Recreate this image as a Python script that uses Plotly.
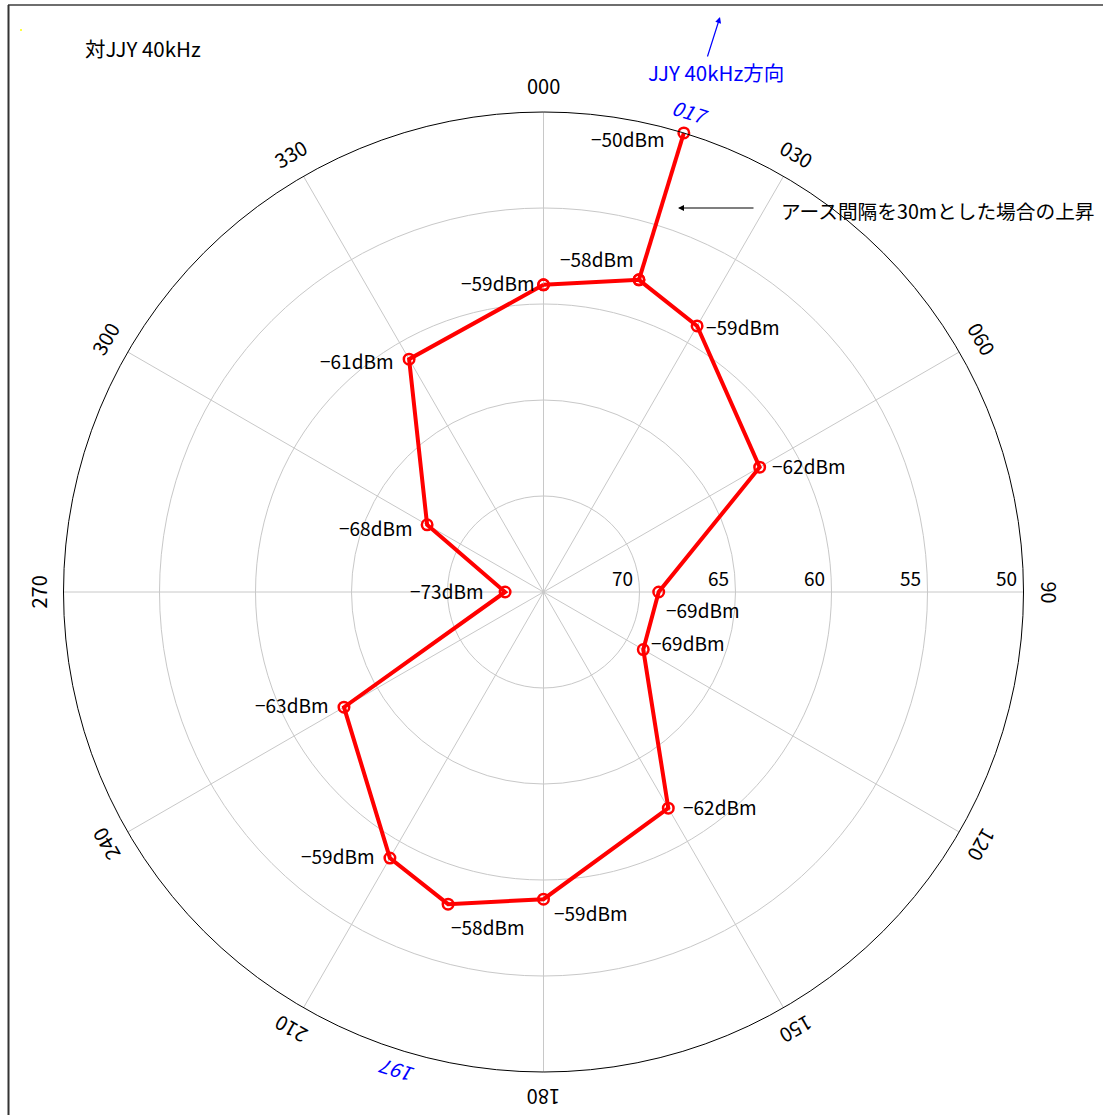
import math
import plotly.graph_objects as go

# ---------------- data ----------------
angles = [0, 17, 30, 60, 90, 120, 150, 180, 197, 210, 240, 270, 300, 330]
levels_dbm = [-59, -58, -59, -62, -69, -69, -62, -59, -58, -59, -63, -73, -68, -61]

rise_angles = [17, 17]
rise_dbm = [-58, -50]

ring_values = [5, 10, 15, 20, 25]
ring_labels = ["70", "65", "60", "55", "50"]
spoke_angles = [0, 30, 60, 90, 120, 150, 180, 210, 240, 270, 300, 330]
spoke_labels = ["000", "030", "060", "90", "120", "150", "180", "210", "240", "270", "300", "330"]
special_angles = [17, 197]
special_labels = ["017", "197"]

# label offsets (pixels, from each point to its label centre)
label_dx = [-46, -42, 46, 49, 44, 45, 52, 47, 40, -52, -52, -58, -51, -52]
label_dy = [-2, -21, 1, -2, 17, -7, -2, 13, 22, -3, -3, -2, 3, 1]
rise_label_dx, rise_label_dy = -56, 6

OFFSET = 75          # r = dBm + 75  (centre = -75 dBm)
RMAX = 25

# ---------------- geometry ----------------
W, H = 1103, 1115
CX, CY, R = 543.5, 592.0, 480.0
FONT = "Noto Sans CJK JP, Noto Sans, sans-serif"


def to_paper(theta, rval):
    px = CX + R * rval / RMAX * math.sin(math.radians(theta))
    py = CY - R * rval / RMAX * math.cos(math.radians(theta))
    return px / W, 1 - py / H


def fmt(v):
    return f"{v}dBm".replace("-", "\u2212")


r_main = [v + OFFSET for v in levels_dbm]
r_rise = [v + OFFSET for v in rise_dbm]
fig = go.Figure()

line_style = dict(color="#ff0000", width=4)
marker_style = dict(symbol="circle-open", size=10.5, color="#ff0000", line=dict(width=2.5))

fig.add_trace(go.Scatterpolar(
    theta=angles + angles[:1],
    r=r_main + r_main[:1],
    mode="lines+markers",
    line=line_style, marker=marker_style,
    cliponaxis=False, showlegend=False, hoverinfo="skip",
))
fig.add_trace(go.Scatterpolar(
    theta=rise_angles, r=r_rise,
    mode="lines+markers",
    line=line_style, marker=marker_style,
    cliponaxis=False, showlegend=False, hoverinfo="skip",
))

annotations = []
LBL_FONT = dict(family=FONT, size=19, color="black")

# value labels
for a, rv, v, dx, dy in zip(angles, r_main, levels_dbm, label_dx, label_dy):
    x, y = to_paper(a, rv)
    annotations.append(dict(x=x, y=y, xref="paper", yref="paper", text=fmt(v), showarrow=False,
                            xanchor="center", yanchor="middle", xshift=dx, yshift=-dy, font=LBL_FONT))
x, y = to_paper(rise_angles[1], r_rise[1])
annotations.append(dict(x=x, y=y, xref="paper", yref="paper", text=fmt(rise_dbm[1]), showarrow=False,
                        xanchor="center", yanchor="middle", xshift=rise_label_dx, yshift=-rise_label_dy,
                        font=LBL_FONT))

# angular labels (rotated)
LABEL_R = RMAX * 506 / R
for a, t in zip(spoke_angles, spoke_labels):
    x, y = to_paper(a, LABEL_R)
    ang = a if a <= 180 else a - 360
    annotations.append(dict(x=x, y=y, xref="paper", yref="paper", text=t, showarrow=False,
                            textangle=ang, xanchor="center", yanchor="middle",
                            font=dict(family=FONT, size=20, color="black")))
LABEL_R2 = RMAX * 502 / R
for a, t in zip(special_angles, special_labels):
    x, y = to_paper(a, LABEL_R2)
    ang = a if a <= 180 else a - 360
    annotations.append(dict(x=x, y=y, xref="paper", yref="paper", text=t, showarrow=False,
                            textangle=ang, xanchor="center", yanchor="middle",
                            font=dict(family=FONT, size=20, color="blue", style="italic")))

# radial labels
for v, t in zip(ring_values, ring_labels):
    x, y = to_paper(90, v)
    annotations.append(dict(x=x - 5 / W, y=y - 1 / H, xref="paper", yref="paper", text=t,
                            showarrow=False, xanchor="right", yanchor="bottom",
                            font=dict(family=FONT, size=19, color="black")))

# title / notes
annotations.append(dict(x=83 / W, y=1 - 48 / H, xref="paper", yref="paper", text="対JJY 40kHz",
                        showarrow=False, xanchor="left", yanchor="middle",
                        font=dict(family=FONT, size=20.5, color="black")))
annotations.append(dict(x=716 / W, y=1 - 72 / H, xref="paper", yref="paper", text="JJY 40kHz方向",
                        showarrow=False, xanchor="center", yanchor="middle",
                        font=dict(family=FONT, size=20.5, color="blue")))
annotations.append(dict(x=720 / W, y=1 - 17 / H, xref="paper", yref="paper", text="",
                        showarrow=True, ax=-13, ay=41, arrowhead=2, arrowsize=1, arrowwidth=1.2,
                        arrowcolor="blue", standoff=0, startstandoff=0))
annotations.append(dict(x=779 / W, y=1 - 211 / H, xref="paper", yref="paper",
                        text="アース間隔を30mとした場合の上昇",
                        showarrow=False, xanchor="left", yanchor="middle",
                        font=dict(family=FONT, size=19.7, color="black")))
annotations.append(dict(x=678 / W, y=1 - 208 / H, xref="paper", yref="paper", text="",
                        showarrow=True, ax=77, ay=0, arrowhead=2, arrowsize=1, arrowwidth=1.2,
                        arrowcolor="black", standoff=0, startstandoff=0))

shapes = [
    dict(type="line", xref="paper", yref="paper", x0=8 / W, x1=1.0, y0=1 - 5 / H, y1=1 - 5 / H,
         line=dict(color="#6e6e6e", width=2)),
    dict(type="line", xref="paper", yref="paper", x0=8.5 / W, x1=8.5 / W, y0=0, y1=1 - 5 / H,
         line=dict(color="#333333", width=2)),
    dict(type="circle", xref="paper", yref="paper", x0=20 / W, x1=22 / W, y0=1 - 31 / H, y1=1 - 29 / H,
         line=dict(width=0), fillcolor="#ffff00"),
]

fig.update_layout(
    width=W, height=H,
    margin=dict(l=0, r=0, t=0, b=0),
    paper_bgcolor="white",
    plot_bgcolor="white",
    showlegend=False,
    polar=dict(
        domain=dict(x=[(CX - R) / W, (CX + R) / W], y=[1 - (CY + R) / H, 1 - (CY - R) / H]),
        bgcolor="white",
        angularaxis=dict(
            rotation=90, direction="clockwise",
            tickmode="array", tickvals=spoke_angles,
            showticklabels=False, ticks="",
            showgrid=True, gridcolor="#c8c8c8", gridwidth=1,
            showline=True, linecolor="black", linewidth=1,
        ),
        radialaxis=dict(
            range=[0, RMAX], angle=0,
            tickmode="array", tickvals=ring_values[:-1],
            showticklabels=False, ticks="",
            showgrid=True, gridcolor="#c8c8c8", gridwidth=1,
            showline=False,
        ),
    ),
    annotations=annotations,
    shapes=shapes,
)

fig.write_html("out.html")
